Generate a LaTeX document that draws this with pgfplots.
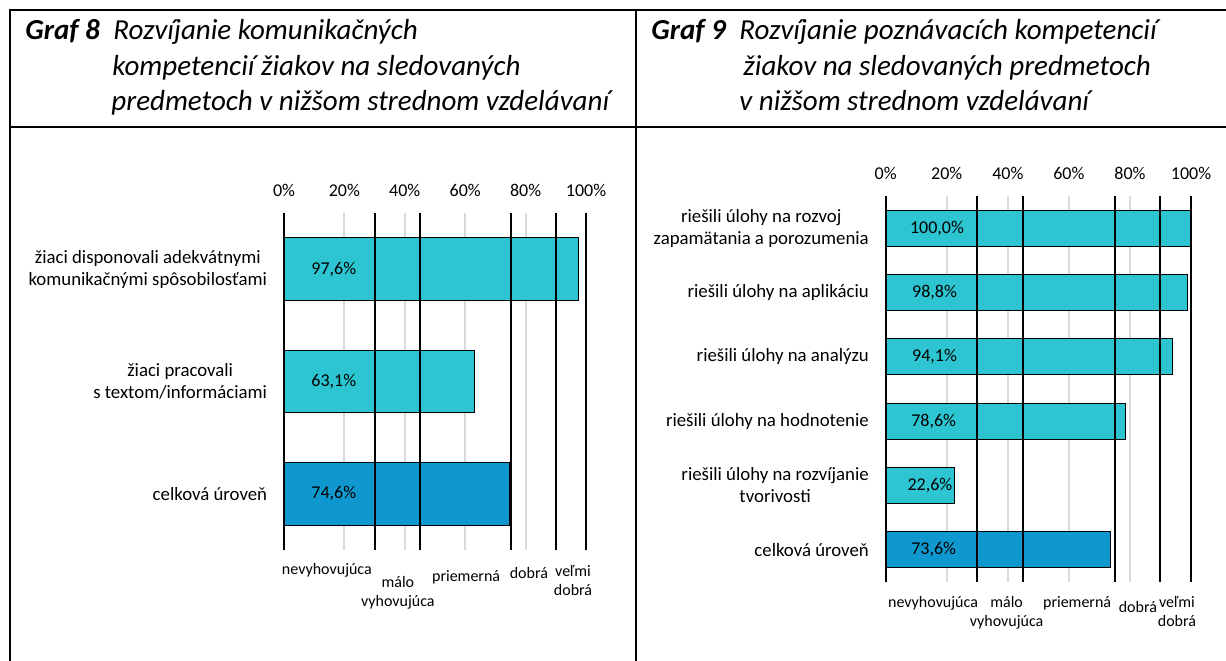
\documentclass[border=0pt]{standalone}
\usepackage{pgfplots}
\pgfplotsset{compat=1.18}
\usepackage{fontspec}
\setmainfont{Carlito}
\definecolor{barA}{HTML}{2DC5D2}
\definecolor{barB}{HTML}{0F98CF}
\definecolor{gridc}{HTML}{D9D9D9}
\pgfplotsset{
  mybar/.style={
    xbar, scale only axis, clip=false,
    xmin=0, xmax=100, ymin=-0.5, y dir=reverse,
    axis line style={draw=none},
    major tick style={draw=none},
    xtick={0,20,40,60,80,100},
    xticklabels={0\%,20\%,40\%,60\%,80\%,100\%},
    xticklabel pos=upper,
    xticklabel style={font=\fontsize{9}{11}\selectfont, yshift=4.5pt},
    xmajorgrids, major grid style={gridc, line width=1pt},
    yticklabel style={align=center, font=\fontsize{9.4}{11}\selectfont, inner sep=0pt, xshift=-4pt},
    bar width=0.56, bar shift=0pt,
    every axis plot/.append style={draw=black, line width=0.5pt},
  },
}
\tikzset{
  vlab/.style={font=\fontsize{9}{11}\selectfont},
  rlab/.style={font=\fontsize{8}{9.5}\selectfont, align=center},
}
\begin{document}
\begin{tikzpicture}
\useasboundingbox (0pt,0pt) rectangle (613pt,-330pt);
\begin{scope}[x=0.5pt,y=-0.5pt]
\draw[line width=1pt] (10,662) -- (10,10) -- (1228,10);
\draw[line width=1pt] (10,127) -- (1228,127);
\draw[line width=1pt] (636,10) -- (636,662);
\node[anchor=base west, inner sep=0pt, font=\fontsize{14.5}{18}\selectfont\bfseries\itshape] at (25,39) {Graf 8};
\node[anchor=base west, inner sep=0pt, font=\fontsize{14.5}{18}\selectfont\itshape] at (113,39) {Rozvíjanie komunikačných};
\node[anchor=base west, inner sep=0pt, font=\fontsize{14.5}{18}\selectfont\itshape] at (112,75) {kompetencií žiakov na sledovaných};
\node[anchor=base west, inner sep=0pt, font=\fontsize{14.5}{18}\selectfont\itshape] at (111,110) {predmetoch v nižšom strednom vzdelávaní};
\node[anchor=base west, inner sep=0pt, font=\fontsize{14.5}{18}\selectfont\bfseries\itshape] at (651,39) {Graf 9};
\node[anchor=base west, inner sep=0pt, font=\fontsize{14.5}{18}\selectfont\itshape] at (739,39) {Rozvíjanie poznávacích kompetencií};
\node[anchor=base west, inner sep=0pt, font=\fontsize{14.5}{18}\selectfont\itshape] at (743,75) {žiakov na sledovaných predmetoch};
\node[anchor=base west, inner sep=0pt, font=\fontsize{14.5}{18}\selectfont\itshape] at (739,110) {v nižšom strednom vzdelávaní};
\end{scope}

% Left chart
\begin{axis}[mybar, at={(142pt,-106.5pt)}, anchor=north west,
  width=151pt, height=168.5pt, ymax=2.5,
  ytick={0,1,2},
  yticklabels={{žiaci disponovali adekvátnymi\\komunikačnými spôsobilosťami},{žiaci pracovali\\s textom/informáciami},{celková úroveň}}]
\addplot[fill=barA] coordinates {(97.6,0) (63.1,1)};
\addplot[fill=barB] coordinates {(74.6,2)};
\pgfplotsinvokeforeach{0,30,45,75,90,100}{\draw[black, line width=1pt] (axis cs:#1,-0.5) -- (axis cs:#1,2.5);}
\node[vlab] at (axis cs:16.5,0) {97,6\%};
\node[vlab] at (axis cs:16.5,1) {63,1\%};
\node[vlab] at (axis cs:16.5,2) {74,6\%};
\node[rlab] at (axis cs:14.2,2.678) {nevyhovujúca};
\node[rlab] at (axis cs:37.7,2.878) {málo\\vyhovujúca};
\node[rlab] at (axis cs:60.3,2.74) {priemerná};
\node[rlab] at (axis cs:81.1,2.705) {dobrá};
\node[rlab] at (axis cs:95.7,2.772) {veľmi\\dobrá};
\end{axis}

% Right chart
\begin{axis}[mybar, at={(442.85pt,-98pt)}, anchor=north west,
  width=152.65pt, height=193pt, ymax=5.5,
  ytick={0,1,2,3,4,5},
  yticklabels={{riešili úlohy na rozvoj\\zapamätania a porozumenia},{riešili úlohy na aplikáciu},{riešili úlohy na analýzu},{riešili úlohy na hodnotenie},{riešili úlohy na rozvíjanie\\tvorivosti},{celková úroveň}}]
\addplot[fill=barA] coordinates {(100,0) (98.8,1) (94.1,2) (78.6,3) (22.6,4)};
\addplot[fill=barB] coordinates {(73.6,5)};
\pgfplotsinvokeforeach{0,30,45,75,90,100}{\draw[black, line width=1pt] (axis cs:#1,-0.5) -- (axis cs:#1,5.5);}
\node[vlab] at (axis cs:16.8,0) {100,0\%};
\node[vlab] at (axis cs:16,1) {98,8\%};
\node[vlab] at (axis cs:16,2) {94,1\%};
\node[vlab] at (axis cs:15.7,3) {78,6\%};
\node[vlab] at (axis cs:14.5,4) {22,6\%};
\node[vlab] at (axis cs:15.7,5) {73,6\%};
\node[rlab] at (axis cs:15.5,5.825) {nevyhovujúca};
\node[rlab] at (axis cs:39.6,5.972) {málo\\vyhovujúca};
\node[rlab] at (axis cs:62.7,5.825) {priemerná};
\node[rlab] at (axis cs:82.6,5.887) {dobrá};
\node[rlab] at (axis cs:95.4,5.957) {veľmi\\dobrá};
\end{axis}
\end{tikzpicture}
\end{document}
